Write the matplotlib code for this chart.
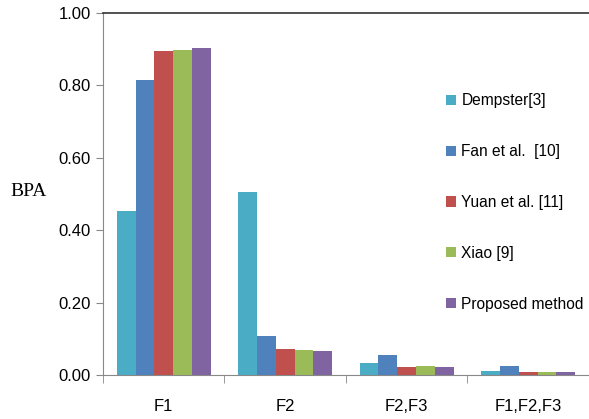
import numpy as np
import matplotlib
matplotlib.use("Agg")
import matplotlib.pyplot as plt

# Dati: BPA per ciascun elemento focale e metodo
categories = ["F1", "F2", "F2,F3", "F1,F2,F3"]
methods = ["Dempster[3]", "Fan et al.  [10]", "Yuan et al. [11]", "Xiao [9]", "Proposed method"]
dempster = [0.452, 0.505, 0.032, 0.011]
fan = [0.814, 0.109, 0.054, 0.026]
yuan = [0.894, 0.072, 0.022, 0.007]
xiao = [0.897, 0.069, 0.026, 0.007]
proposed = [0.903, 0.066, 0.022, 0.007]
yticks = [0.0, 0.2, 0.4, 0.6, 0.8, 1.0]

series = [dempster, fan, yuan, xiao, proposed]
colors = ["#4BACC6", "#4F81BD", "#C0504D", "#9BBB59", "#8064A2"]

narrow = ["Liberation Sans Narrow", "Liberation Sans", "DejaVu Sans"]

fig = plt.figure(figsize=(5.89, 4.19), dpi=100)
ax = fig.add_axes([0.1749, 0.105, 0.825, 0.864])

x = np.arange(len(categories))
w = 0.155
for i, (vals, col, name) in enumerate(zip(series, colors, methods)):
    ax.bar(x + (i - 2) * w, vals, width=w, color=col, label=name, linewidth=0)

ax.set_xlim(-0.5, 3.45)
ax.set_ylim(0, 1.0)

# Asse y
ax.set_yticks(yticks)
ax.set_yticklabels([f"{v:.2f}" for v in yticks], fontfamily=narrow, fontsize=12)
ax.tick_params(axis="y", direction="out", length=5, color="#888888", pad=4)

# Asse x: etichette al centro, tacche ai confini
ax.set_xticks(x)
ax.set_xticklabels(categories, fontfamily=narrow, fontsize=12)
ax.tick_params(axis="x", which="major", length=0, pad=17)
ax.set_xticks(np.arange(-0.5, 4.0, 1.0), minor=True)
ax.tick_params(axis="x", which="minor", direction="out", length=6, color="#888888")

for side in ["left", "bottom"]:
    ax.spines[side].set_color("#888888")
ax.spines["right"].set_visible(False)
ax.spines["top"].set_color("#333333")
ax.spines["top"].set_linewidth(1.2)

fig.text(0.017, 0.542, "BPA", fontfamily=["Liberation Serif", "DejaVu Serif"],
         fontsize=14, va="center", ha="left")

leg = ax.legend(loc="upper left", bbox_to_anchor=(0.757, 0.777), bbox_transform=fig.transFigure,
                frameon=False, prop={"family": narrow, "size": 11.2},
                handlelength=0.65, handleheight=0.65, handletextpad=0.35, labelspacing=2.3,
                borderaxespad=0, borderpad=0)

fig.savefig("out.png", dpi=100)
